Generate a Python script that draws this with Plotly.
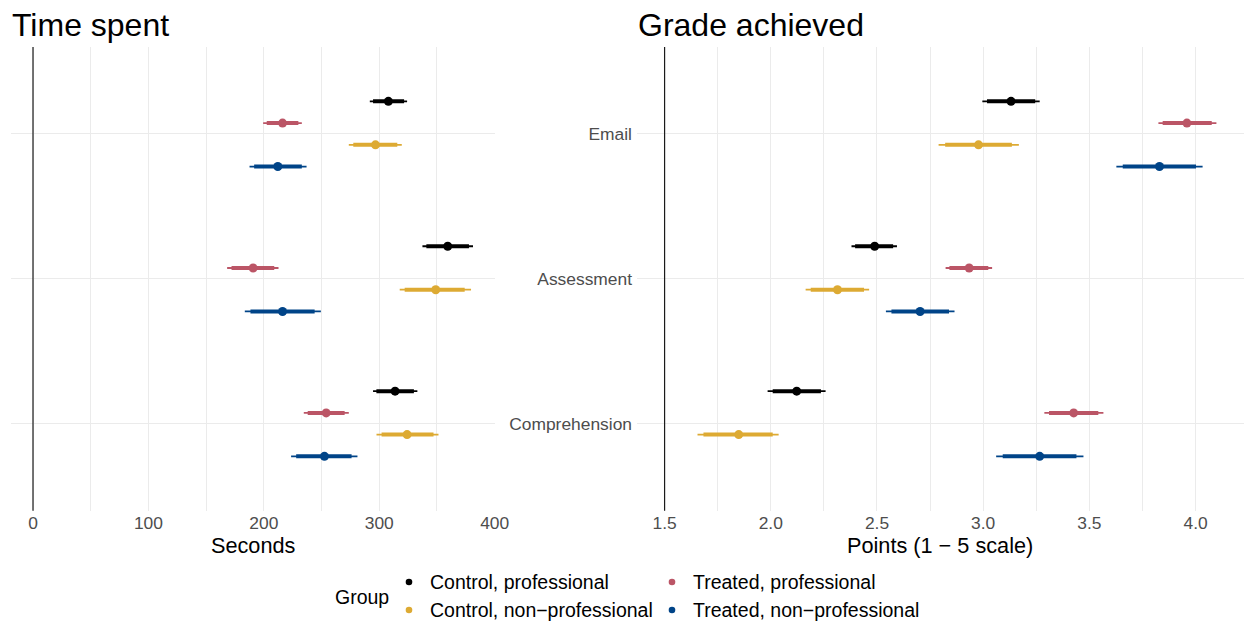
import plotly.graph_objects as go

# ---------------------------------------------------------------------------
# Data: estimates with a wide (outer) and a narrow (inner) interval
# Task order (bottom to top): Comprehension, Assessment, Email
# ---------------------------------------------------------------------------
tasks = ["Comprehension", "Assessment", "Email"]
groups = ["Control, professional", "Treated, professional",
          "Control, non-professional", "Treated, non-professional"]
legend_labels = ["Control, professional", "Treated, professional",
                 "Control, non\u2212professional", "Treated, non\u2212professional"]

# Time spent (seconds)
time_est = {
    "Control, professional":     [313.7, 359.3, 307.9],
    "Treated, professional":     [254.0, 190.7, 216.2],
    "Control, non-professional": [324.1, 348.9, 296.7],
    "Treated, non-professional": [252.5, 216.2, 212.1],
}
time_lo_outer = {
    "Control, professional":     [294.6, 337.4, 291.8],
    "Treated, professional":     [234.6, 168.2, 199.4],
    "Control, non-professional": [297.6, 317.7, 273.6],
    "Treated, non-professional": [223.6, 183.5, 187.6],
}
time_hi_outer = {
    "Control, professional":     [333.0, 381.2, 324.1],
    "Treated, professional":     [273.6, 212.7, 232.9],
    "Control, non-professional": [351.3, 379.5, 319.5],
    "Treated, non-professional": [281.1, 249.4, 237.0],
}
time_lo_inner = {
    "Control, professional":     [297.5, 340.8, 294.6],
    "Treated, professional":     [238.0, 172.0, 202.5],
    "Control, non-professional": [302.0, 322.0, 277.5],
    "Treated, non-professional": [228.0, 188.4, 191.6],
}
time_hi_inner = {
    "Control, professional":     [330.0, 377.7, 321.5],
    "Treated, professional":     [270.0, 209.0, 229.9],
    "Control, non-professional": [347.0, 374.0, 315.6],
    "Treated, non-professional": [276.0, 244.0, 232.9],
}

# Grade achieved (points, 1 - 5 scale)
grade_est = {
    "Control, professional":     [2.122, 2.489, 3.131],
    "Treated, professional":     [3.426, 2.934, 3.959],
    "Control, non-professional": [1.849, 2.314, 2.978],
    "Treated, non-professional": [3.266, 2.703, 3.830],
}
grade_lo_outer = {
    "Control, professional":     [1.985, 2.380, 2.996],
    "Treated, professional":     [3.288, 2.823, 3.825],
    "Control, non-professional": [1.655, 2.164, 2.790],
    "Treated, non-professional": [3.061, 2.542, 3.627],
}
grade_hi_outer = {
    "Control, professional":     [2.258, 2.594, 3.266],
    "Treated, professional":     [3.566, 3.042, 4.098],
    "Control, non-professional": [2.037, 2.463, 3.168],
    "Treated, non-professional": [3.472, 2.865, 4.033],
}
grade_lo_inner = {
    "Control, professional":     [2.009, 2.397, 3.018],
    "Treated, professional":     [3.310, 2.841, 3.845],
    "Control, non-professional": [1.683, 2.188, 2.821],
    "Treated, non-professional": [3.092, 2.568, 3.657],
}
grade_hi_inner = {
    "Control, professional":     [2.236, 2.576, 3.245],
    "Treated, professional":     [3.542, 3.024, 4.076],
    "Control, non-professional": [2.009, 2.439, 3.135],
    "Treated, non-professional": [3.439, 2.839, 4.002],
}

time_ticks = [0, 100, 200, 300, 400]
grade_ticks = [1.5, 2.0, 2.5, 3.0, 3.5, 4.0]
time_origin = 0
grade_origin = 1.5

# ---------------------------------------------------------------------------
# Styling
# ---------------------------------------------------------------------------
W, H = 1245, 624
colors = {
    "Control, professional": "#000000",
    "Treated, professional": "#BB5566",
    "Control, non-professional": "#DDAA33",
    "Treated, non-professional": "#004488",
}
# vertical dodge of the four groups within a task row
dodge = {
    "Control, professional": 0.225,
    "Treated, professional": 0.075,
    "Control, non-professional": -0.075,
    "Treated, non-professional": -0.225,
}
FONT = "Liberation Sans, Arial, Helvetica, sans-serif"
GRID = "#EBEBEB"
TICK_COL = "#4D4D4D"


def px_x(p):
    return p / W


def px_y(p):
    return 1 - p / H


fig = go.Figure()


def add_panel(est, lo_o, hi_o, lo_i, hi_i, xa, ya):
    for g in groups:
        c = colors[g]
        ys = [i + 1 + dodge[g] for i in range(len(tasks))]
        xo, yo, xi, yi = [], [], [], []
        for k, y in enumerate(ys):
            xo += [lo_o[g][k], hi_o[g][k], None]
            yo += [y, y, None]
            xi += [lo_i[g][k], hi_i[g][k], None]
            yi += [y, y, None]
        fig.add_trace(go.Scatter(x=xo, y=yo, mode="lines", xaxis=xa, yaxis=ya,
                                 line=dict(color=c, width=1.8),
                                 showlegend=False, hoverinfo="skip"))
        fig.add_trace(go.Scatter(x=xi, y=yi, mode="lines", xaxis=xa, yaxis=ya,
                                 line=dict(color=c, width=4),
                                 showlegend=False, hoverinfo="skip"))
        fig.add_trace(go.Scatter(x=est[g], y=ys, mode="markers", xaxis=xa, yaxis=ya,
                                 marker=dict(color=c, size=9),
                                 name=g, showlegend=False,
                                 hovertemplate=g + ": %{x}<extra></extra>"))


add_panel(time_est, time_lo_outer, time_hi_outer, time_lo_inner, time_hi_inner, "x", "y")
add_panel(grade_est, grade_lo_outer, grade_hi_outer, grade_lo_inner, grade_hi_inner, "x2", "y2")


def expanded(origin, hi_dict):
    top = max(max(v) for v in hi_dict.values())
    span = top - origin
    return [origin - 0.05 * span, top + 0.05 * span]


panel_top, panel_bottom = 47, 510.7
ydom = [px_y(panel_bottom), px_y(panel_top)]
yrange = [0.4, len(tasks) + 0.6]

common_x = dict(showline=False, zeroline=False, ticks="", automargin=False,
                gridcolor=GRID, gridwidth=1.1,
                tickfont=dict(family=FONT, size=17.4, color=TICK_COL))
common_y = dict(showline=False, zeroline=False, ticks="", automargin=False,
                range=yrange, tickvals=[1, 2, 3], ticktext=tasks,
                gridcolor=GRID, gridwidth=1.1,
                tickfont=dict(family=FONT, size=17.4, color=TICK_COL))

fig.update_layout(
    autosize=False,
    width=W, height=H,
    margin=dict(l=0, r=0, t=0, b=0, pad=0),
    paper_bgcolor="white", plot_bgcolor="white",
    showlegend=False,
    xaxis=dict(domain=[px_x(11), px_x(495)], range=expanded(time_origin, time_hi_outer),
               tickvals=time_ticks,
               minor=dict(tickvals=[50, 150, 250, 350], showgrid=True,
                          gridcolor=GRID, gridwidth=0.8),
               **common_x),
    yaxis=dict(domain=ydom, showticklabels=False, **common_y),
    xaxis2=dict(domain=[px_x(637), px_x(1244)], range=expanded(grade_origin, grade_hi_outer),
                tickvals=grade_ticks, ticktext=["1.5", "2.0", "2.5", "3.0", "3.5", "4.0"],
                minor=dict(tickvals=[1.75, 2.25, 2.75, 3.25, 3.75], showgrid=True,
                           gridcolor=GRID, gridwidth=0.8),
                anchor="y2", **common_x),
    yaxis2=dict(domain=ydom, anchor="x2", showticklabels=True, ticklabelstandoff=4,
                **common_y),
)

# reference lines at the axis origins
for xr, yr, x0 in (("x", "y domain", time_origin), ("x2", "y2 domain", grade_origin)):
    fig.add_shape(type="line", xref=xr, yref=yr, x0=x0, x1=x0, y0=0, y1=1,
                  line=dict(color="#1a1a1a", width=1.2), layer="above")

# titles
annotations = [
    dict(text="Time spent", x=px_x(10), y=px_y(25), xanchor="left", yanchor="middle",
         font=dict(family=FONT, size=32, color="black")),
    dict(text="Grade achieved", x=px_x(636), y=px_y(25), xanchor="left", yanchor="middle",
         font=dict(family=FONT, size=32, color="black")),
    dict(text="Seconds", x=px_x(253), y=px_y(545), xanchor="center", yanchor="middle",
         font=dict(family=FONT, size=21.7, color="black")),
    dict(text="Points (1 \u2212 5 scale)", x=px_x(940), y=px_y(545), xanchor="center",
         yanchor="middle", font=dict(family=FONT, size=21.7, color="black")),
    dict(text="Group", x=px_x(333), y=px_y(597), xanchor="left", yanchor="middle",
         font=dict(family=FONT, size=19.5, color="black")),
]

# legend: two columns, two rows
legend_pos = {
    "Control, professional": (409, 582),
    "Treated, professional": (672, 582),
    "Control, non-professional": (409, 610),
    "Treated, non-professional": (672, 610),
}
for g, lab in zip(groups, legend_labels):
    lx, ly = legend_pos[g]
    fig.add_shape(type="circle", xref="paper", yref="paper",
                  xsizemode="pixel", ysizemode="pixel",
                  xanchor=px_x(lx), yanchor=px_y(ly),
                  x0=-3.3, x1=3.3, y0=-3.3, y1=3.3,
                  fillcolor=colors[g], line=dict(width=0))
    annotations.append(dict(text=lab, x=px_x(lx + 19), y=px_y(ly), xanchor="left",
                            yanchor="middle",
                            font=dict(family=FONT, size=19.5, color="black")))

for a in annotations:
    a.update(xref="paper", yref="paper", showarrow=False)
fig.update_layout(annotations=annotations)

fig.write_html("out.html")
